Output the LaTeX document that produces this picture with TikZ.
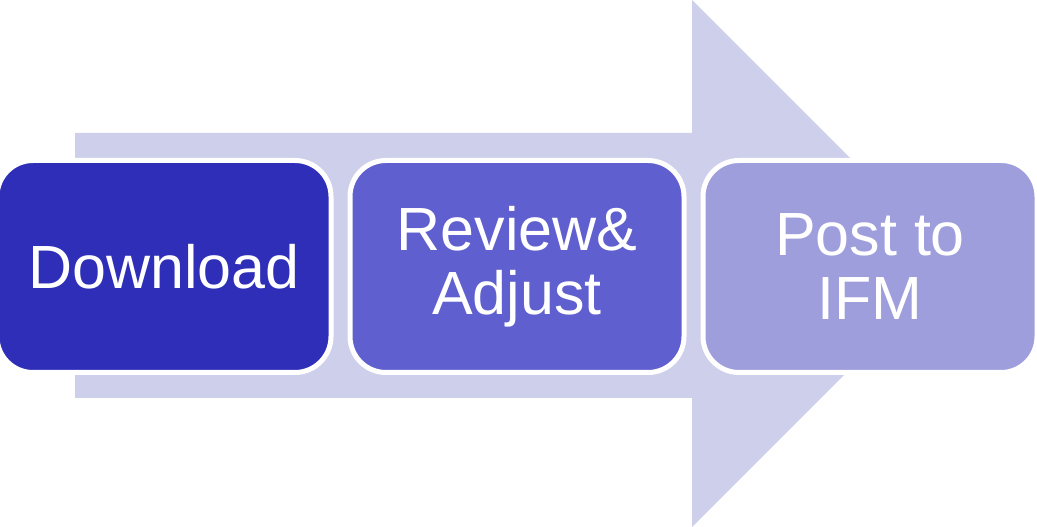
\documentclass[tikz,border=0pt]{standalone}
\usepackage{fontspec}
\setmainfont{Liberation Sans}
\usetikzlibrary{positioning}
\definecolor{arrowbg}{RGB}{205,207,235}
\definecolor{stepA}{RGB}{46,46,184}
\definecolor{stepB}{RGB}{95,95,208}
\definecolor{stepC}{RGB}{158,158,220}
\tikzset{stage/.style={rectangle, rounded corners=36pt, draw=white, line width=5pt,
  minimum width=334pt, minimum height=212pt, text=white, align=center, inner sep=0pt,
  font=\fontsize{61}{64}\selectfont}}
\begin{document}
\begin{tikzpicture}[x=1pt,y=1pt]
\useasboundingbox (0,0) rectangle (1037,527);
\fill[arrowbg] (75,394) -- (692,394) -- (692,527) -- (955.5,263.5) -- (692,0) -- (692,129) -- (75,129) -- cycle;
\node[stage, fill=stepA] (download) at (164,260.5) {Download};
\node[stage, fill=stepB, right=14pt of download] (review) {Review\&\\Adjust};
\node[stage, fill=stepC, right=14pt of review] (post) {Post to\\IFM};
\end{tikzpicture}
\end{document}
